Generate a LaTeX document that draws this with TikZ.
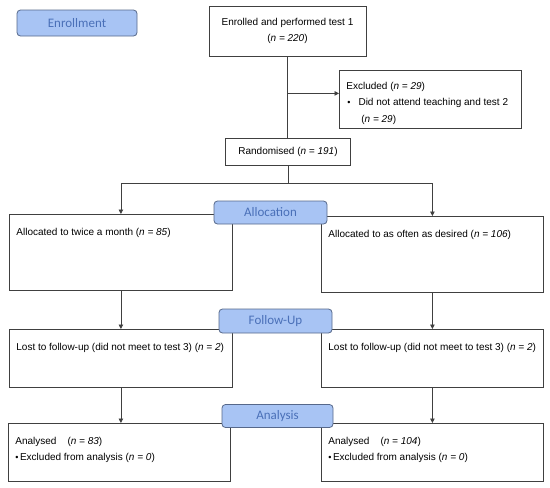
\documentclass[tikz,border=0pt]{standalone}
\usepackage{fontspec}
\setmainfont{Liberation Sans}
\newfontfamily\stagefont{Carlito}
\usepackage{tikz}
\usetikzlibrary{arrows.meta,positioning}
\definecolor{stageblue}{HTML}{A8C4F4}
\definecolor{stagetext}{HTML}{4A70B8}
\definecolor{stageedge}{HTML}{56688A}
\definecolor{flowgray}{HTML}{404040}
\newcommand{\nn}[1]{(\textit{n = #1})}
\newcommand{\topbox}[3]{\parbox[t][#1][t]{#2}{\strut#3}}
\newcommand{\smallbul}{{\fontsize{9}{9}\selectfont\textbullet}}

\begin{document}
\begin{tikzpicture}[
  x=1pt,y=-1pt,
  stage/.style={draw=stageedge,fill=stageblue,rounded corners=3.5pt,line width=0.8pt,text=stagetext,font=\stagefont\fontsize{13}{15}\selectfont,inner sep=0pt},
  box/.style={draw=flowgray,line width=0.8pt,anchor=north west,inner xsep=7pt,inner ysep=9.5pt,font=\fontsize{10}{16.5}\selectfont,align=left},
  cbox/.style={draw=flowgray,line width=0.8pt,inner sep=0pt,align=center,font=\fontsize{10}{16}\selectfont},
  link/.style={draw=flowgray,line width=0.8pt},
  arrow/.style={link,-{Triangle[length=4.5pt,width=4.5pt]}}
]
\useasboundingbox (0,0) rectangle (550,488);
\node[cbox,minimum width=157pt,minimum height=50pt] (enrolled) at (287.5,31) {Enrolled and performed test 1\\\nn{220}};
\node[box,inner ysep=7.5pt] (excl) at (339,70) {\topbox{43pt}{168pt}{Excluded \nn{29}\\
  \hspace*{1pt}\smallbul\hspace{8pt}Did not attend teaching and test 2\\
  \hspace*{15pt}\nn{29}}};
\node[cbox,minimum width=125pt,minimum height=27pt] (rand) at (288,151.5) {Randomised \nn{191}};
\node[box] (allocL) at (9,214) {\topbox{57pt}{209pt}{Allocated to twice a month \nn{85}}};
\node[box] (allocR) at (321,216) {\topbox{57pt}{208pt}{Allocated to as often as desired \nn{106}}};
\node[box] (followL) at (9,329) {\topbox{39pt}{209pt}{Lost to follow-up (did not meet to test 3) \nn{2}}};
\node[box] (followR) at (321,329) {\topbox{39pt}{208pt}{Lost to follow-up (did not meet to test 3) \nn{2}}};
\node[box] (anaL) at (8,423) {\topbox{39pt}{208pt}{Analysed\hspace{11pt}\nn{83}\\
  \smallbul\hspace{1.5pt}Excluded from analysis \nn{0}}};
\node[box] (anaR) at (321,423) {\topbox{39pt}{208pt}{Analysed\hspace{11pt}\nn{104}\\
  \smallbul\hspace{1.5pt}Excluded from analysis \nn{0}}};
\node[stage,minimum width=120pt,minimum height=26pt] (enrol) at (77,23) {Enrollment};
\node[stage,minimum width=113pt,minimum height=23pt] (allocation) at (270.5,212.5) {Allocation};
\node[stage,minimum width=113pt,minimum height=24pt] (followup) at (275.5,321) {Follow-Up};
\node[stage,minimum width=111pt,minimum height=23pt] (analysis) at (277.5,416) {Analysis};
\coordinate (exclin) at ([yshift=6pt]excl.west);
\coordinate (split) at ([yshift=-18pt]rand.south);
\draw[link] (enrolled.south) -- (enrolled.south |- rand.north);
\draw[arrow] (enrolled.south |- exclin) -- (exclin);
\draw[link] (rand.south) -- (split);
\draw[arrow] (split) -| (allocL.north);
\draw[arrow] (split) -| (allocR.north);
\draw[arrow] (allocL.south) -- (followL.north);
\draw[arrow] (allocR.south) -- (allocR.south |- followR.north);
\draw[arrow] (followL.south) -- (followL.south |- anaL.north);
\draw[arrow] (followR.south) -- (anaR.north);
\end{tikzpicture}
\end{document}
